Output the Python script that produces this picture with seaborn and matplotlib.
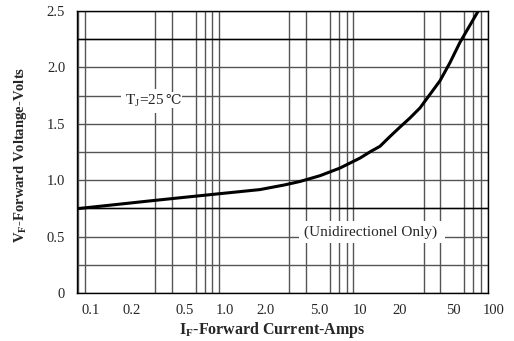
# Forward voltage vs forward current curve (datasheet style)

import numpy as np
import pandas as pd
import seaborn as sns
import matplotlib.pyplot as plt
import matplotlib.transforms as mtransforms
from matplotlib.ticker import LogLocator, NullFormatter, MultipleLocator

# Values
current_amps = [0.079, 0.139, 0.266, 0.50, 0.913, 1.81, 2.78, 3.60, 5.07, 7.15,
                10.1, 11.95, 14.2, 16.8, 20.0, 23.7, 28.2, 39.7, 47.1, 55.9, 77.5]
forward_volts = [0.747, 0.778, 0.814, 0.848, 0.88, 0.916, 0.958, 0.988, 1.039, 1.107,
                 1.196, 1.25, 1.30, 1.385, 1.47, 1.55, 1.64, 1.88, 2.04, 2.22, 2.51]

x_ticks = [0.1, 0.2, 0.5, 1.0, 2.0, 5.0, 10, 20, 50]
x_tick_labels = ['0.1', '0.2', '0.5', '1.0', '2.0', '5.0', '10', '20', '50']
y_ticks = [0, 0.5, 1.0, 1.5, 2.0, 2.5]
y_tick_labels = ['0', '0.5', '1.0', '1.5', '2.0', '2.5']

df = pd.DataFrame({'current': current_amps, 'volts': forward_volts})

sns.set_style('white')
plt.rcParams['font.family'] = ['Liberation Serif', 'DejaVu Serif']
plt.rcParams['mathtext.fontset'] = 'custom'
plt.rcParams['mathtext.rm'] = 'Liberation Serif'
plt.rcParams['mathtext.bf'] = 'Liberation Serif:bold'

fig, ax = plt.subplots(figsize=(5.14, 3.41), dpi=100)
fig.subplots_adjust(left=0.150, right=0.949, top=0.968, bottom=0.141)

sns.lineplot(data=df, x='current', y='volts', color='black', linewidth=2.2, ax=ax, zorder=5)

ax.set_xscale('log')
ax.set_xlim(0.0787, 90.2)
ax.set_ylim(0, 2.5)

ax.set_xticks(x_ticks, x_tick_labels)
ax.xaxis.set_minor_locator(LogLocator(base=10, subs=np.arange(1, 10), numticks=30))
ax.xaxis.set_minor_formatter(NullFormatter())
ax.set_yticks(y_ticks, y_tick_labels)
ax.yaxis.set_minor_locator(MultipleLocator(0.25))

ax.grid(False)
ax.grid(which='minor', axis='x', color='#555555', linewidth=1.0)
ax.grid(which='both', axis='y', color='#555555', linewidth=1.0)
# the two darker horizontal rules of the original sheet
for yv in [0.75, 2.25]:
    ax.axhline(yv, color='black', linewidth=1.0, zorder=1)

ax.tick_params(which='both', length=0)
ax.tick_params(axis='x', pad=8, labelsize=10.5)
ax.tick_params(axis='y', pad=8.6, labelsize=10.5)

for s in ax.spines.values():
    s.set_color('black')
    s.set_linewidth(1.0)

# extra "100" label at the right end of the axis
trans = mtransforms.blended_transform_factory(ax.transData, ax.transAxes)
ax.text(100, -0.040, '100', transform=trans, ha='center', va='top', fontsize=10.5, clip_on=False)

# T_J=25℃ : mathtext part + the degree sign in a font that has it
tj = ax.text(0.178, 1.67, r'T$_\mathregular{J}$=25', fontsize=11, ha='left', va='baseline',
             bbox=dict(facecolor='white', edgecolor='none', pad=2.5), zorder=6)
ax.annotate('℃', xy=(1, 0), xycoords=tj, xytext=(0.8, 1.6), textcoords='offset points',
            fontsize=10, ha='left', va='bottom', family=['DejaVu Serif', 'DejaVu Sans'],
            bbox=dict(facecolor='white', edgecolor='none', pad=0.8), zorder=6)

ax.text(12.4, 0.54, '(Unidirectionel Only) ', fontsize=11, ha='center', va='center',
        bbox=dict(facecolor='white', edgecolor='none', pad=3), zorder=6)

ax.set_xlabel(r'I$_\mathregular{F}$-Forward Current-Amps', fontsize=11.5, fontweight='bold', va='top')
ax.xaxis.set_label_coords(0.474, -0.095)
ax.set_ylabel(r'V$_\mathregular{F}$-Forward Voltange-Volts', fontsize=10.5, fontweight='bold')
ax.yaxis.set_label_coords(-0.117, 0.489)

plt.savefig('out.png', dpi=100)
